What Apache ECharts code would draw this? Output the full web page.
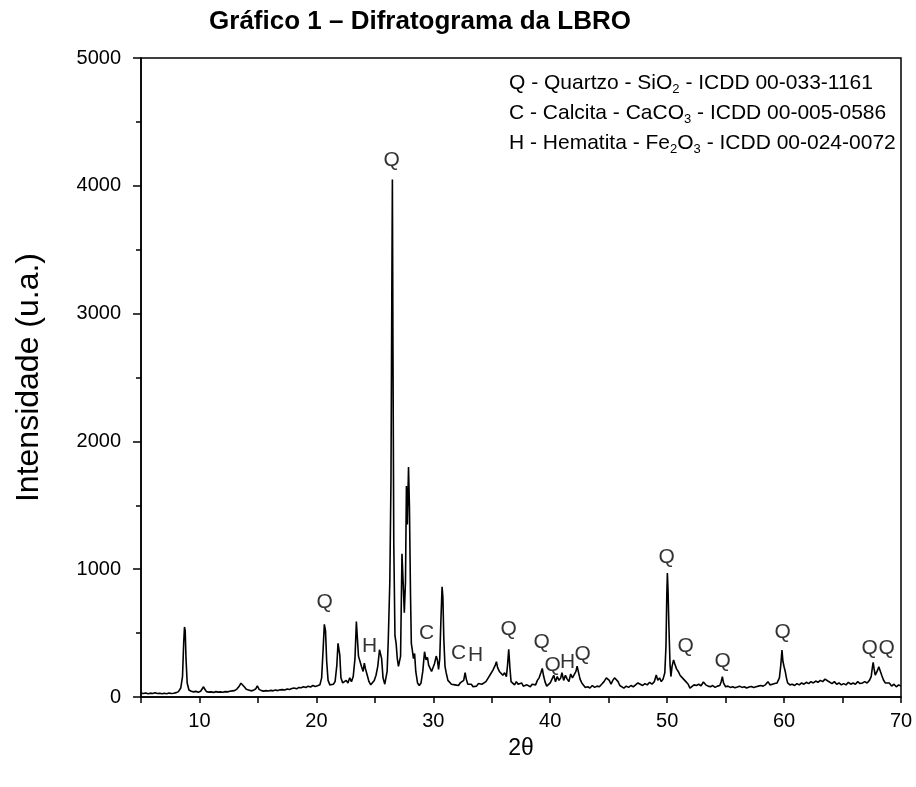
<!DOCTYPE html>
<html>
<head>
<meta charset="utf-8">
<script src="https://cdn.jsdelivr.net/npm/echarts@6/dist/echarts.min.js"></script>
<style>
  html, body { margin: 0; padding: 0; background: #fff; }
  #chart { width: 916px; height: 787px; }
</style>
</head>
<body>
<div id="chart"></div>
<script>
// X-ray diffraction pattern: [2θ (degrees), intensity (a.u.)]
const diffractogram = [
  [5.0,30],[5.2,28],[5.4,32],[5.6,26],[5.8,30],[6.0,28],[6.2,33],[6.4,27],[6.6,30],[6.8,25],
  [7.0,29],[7.2,26],[7.4,31],[7.6,27],[7.8,30],[8.0,34],[8.2,42],[8.4,70],[8.55,160],[8.65,420],
  [8.72,548],[8.78,520],[8.85,300],[8.95,110],[9.1,55],[9.3,45],[9.5,40],[9.7,44],[9.9,38],[10.1,45],
  [10.25,60],[10.35,80],[10.45,62],[10.6,42],[10.8,38],[11.0,40],[11.2,36],[11.4,42],[11.6,38],[11.8,40],
  [12.0,37],[12.2,42],[12.4,40],[12.6,45],[12.8,48],[13.0,50],[13.2,62],[13.4,85],[13.55,108],[13.7,100],
  [13.85,78],[14.0,60],[14.2,55],[14.4,48],[14.6,52],[14.8,62],[14.95,88],[15.1,60],[15.3,50],[15.5,46],
  [15.7,50],[15.9,47],[16.1,52],[16.3,48],[16.5,55],[16.7,50],[16.9,56],[17.1,58],[17.3,55],[17.5,62],
  [17.7,58],[17.9,66],[18.1,70],[18.3,64],[18.5,75],[18.7,72],[18.9,80],[19.1,74],[19.3,85],[19.5,78],
  [19.7,90],[19.9,82],[20.1,88],[20.3,95],[20.45,150],[20.58,380],[20.68,568],[20.78,520],[20.88,280],[21.0,130],
  [21.15,95],[21.3,85],[21.45,100],[21.6,120],[21.75,250],[21.85,420],[21.92,432],[22.0,330],[22.1,150],[22.25,110],
  [22.4,95],[22.55,130],[22.7,110],[22.85,150],[23.0,120],[23.15,160],[23.3,300],[23.42,590],[23.5,470],[23.6,320],
  [23.7,310],[23.85,240],[24.0,200],[24.1,265],[24.2,220],[24.35,170],[24.5,120],[24.65,95],[24.8,105],[24.95,130],
  [25.1,170],[25.25,240],[25.4,370],[25.48,383],[25.58,300],[25.7,150],[25.85,100],[25.95,110],[26.05,200],[26.15,450],
  [26.28,900],[26.38,1700],[26.45,3120],[26.5,4050],[26.55,2710],[26.62,1200],[26.72,480],[26.82,420],[26.92,300],[27.02,240],
  [27.1,230],[27.2,320],[27.32,1120],[27.42,900],[27.52,660],[27.62,900],[27.7,1650],[27.78,1350],[27.88,1800],[27.96,1480],
  [28.05,800],[28.12,420],[28.2,370],[28.3,300],[28.4,340],[28.5,200],[28.65,110],[28.8,90],[28.95,110],[29.1,200],
  [29.25,354],[29.38,290],[29.5,310],[29.6,250],[29.75,240],[29.85,200],[30.0,215],[30.1,260],[30.25,320],[30.35,290],
  [30.45,215],[30.55,300],[30.65,600],[30.75,862],[30.82,780],[30.9,450],[31.0,240],[31.1,190],[31.25,130],[31.4,120],
  [31.55,100],[31.7,115],[31.85,95],[32.0,105],[32.15,90],[32.3,110],[32.45,100],[32.6,130],[32.72,190],[32.82,140],
  [32.95,100],[33.1,85],[33.25,100],[33.4,80],[33.55,95],[33.7,85],[33.85,105],[34.0,90],[34.15,100],[34.3,95],
  [34.5,120],[34.7,150],[34.9,180],[35.1,210],[35.3,250],[35.4,276],[35.5,230],[35.65,200],[35.8,185],[35.95,170],
  [36.1,190],[36.25,160],[36.35,250],[36.45,373],[36.55,230],[36.65,120],[36.8,110],[36.95,95],[37.1,120],[37.25,100],
  [37.4,90],[37.55,110],[37.7,85],[37.85,80],[38.0,95],[38.15,90],[38.3,80],[38.45,100],[38.6,115],[38.75,95],
  [38.9,130],[39.05,150],[39.2,190],[39.32,224],[39.42,170],[39.55,120],[39.7,85],[39.85,75],[40.0,110],[40.15,140],
  [40.3,170],[40.45,120],[40.6,160],[40.75,130],[40.9,150],[41.0,190],[41.15,130],[41.3,170],[41.45,140],[41.6,120],
  [41.75,180],[41.9,150],[42.05,140],[42.2,200],[42.3,242],[42.4,200],[42.55,140],[42.7,110],[42.85,95],[43.0,75],
  [43.2,80],[43.4,70],[43.6,90],[43.8,75],[44.0,85],[44.2,80],[44.4,100],[44.6,120],[44.8,150],[44.93,165],
  [45.05,130],[45.2,100],[45.35,130],[45.5,150],[45.65,155],[45.8,120],[45.95,90],[46.1,75],[46.3,70],[46.5,85],
  [46.7,75],[46.9,90],[47.1,80],[47.3,95],[47.5,110],[47.7,100],[47.9,90],[48.1,105],[48.3,95],[48.5,115],
  [48.7,100],[48.9,120],[49.07,172],[49.2,130],[49.35,150],[49.5,120],[49.65,140],[49.8,190],[49.9,400],[49.97,800],
  [50.02,970],[50.08,820],[50.15,550],[50.25,250],[50.32,160],[50.42,240],[50.55,290],[50.65,260],[50.8,220],[50.95,200],
  [51.1,170],[51.25,180],[51.4,140],[51.6,120],[51.8,100],[51.95,70],[52.1,85],[52.3,95],[52.5,90],[52.7,100],
  [52.9,88],[53.1,117],[53.3,95],[53.5,85],[53.7,80],[53.9,90],[54.1,75],[54.3,85],[54.5,90],[54.62,120],
  [54.72,159],[54.82,110],[55.0,80],[55.2,85],[55.4,75],[55.6,80],[55.8,72],[56.0,78],[56.2,85],[56.4,75],
  [56.6,80],[56.8,70],[57.0,78],[57.2,82],[57.4,75],[57.6,80],[57.8,85],[58.0,90],[58.2,85],[58.4,95],
  [58.62,120],[58.8,95],[59.0,100],[59.2,105],[59.4,110],[59.6,150],[59.72,250],[59.82,367],[59.9,280],[60.0,237],
  [60.1,200],[60.2,150],[60.3,110],[60.5,95],[60.7,100],[60.9,90],[61.1,105],[61.3,95],[61.5,110],[61.7,100],
  [61.9,115],[62.1,105],[62.3,120],[62.5,110],[62.7,125],[62.9,115],[63.1,130],[63.3,120],[63.5,140],[63.6,143],
  [63.75,125],[63.9,115],[64.1,105],[64.3,120],[64.5,100],[64.7,110],[64.9,95],[65.1,105],[65.3,95],[65.5,115],
  [65.7,100],[65.9,110],[66.1,100],[66.3,120],[66.5,105],[66.7,110],[66.9,120],[67.1,110],[67.3,130],[67.45,160],
  [67.55,230],[67.62,271],[67.7,220],[67.8,172],[67.9,190],[68.0,210],[68.1,237],[68.2,230],[68.35,170],[68.5,133],
  [68.65,110],[68.8,95],[69.0,110],[69.2,85],[69.4,100],[69.6,80],[69.8,95],[70.0,85]
];

// Phase identification letters placed above the peaks: [2θ, height, phase]
const phaseMarks = [
  [26.43,4200,'Q'],[20.70,745,'Q'],[24.55,400,'H'],[29.42,500,'C'],[32.16,345,'C'],
  [33.61,330,'H'],[36.44,530,'Q'],[39.26,425,'Q'],[40.20,245,'Q'],[41.48,275,'H'],
  [42.77,335,'Q'],[49.95,1095,'Q'],[51.58,400,'Q'],[54.74,282,'Q'],[59.87,510,'Q'],
  [67.32,383,'Q'],[68.77,383,'Q']
];

// Phase key lines (subscripts marked with {s|…})
const phaseKey = [
  'Q - Quartzo - SiO{s|2} - ICDD 00-033-1161',
  'C - Calcita - CaCO{s|3} - ICDD 00-005-0586',
  'H - Hematita - Fe{s|2}O{s|3} - ICDD 00-024-0072'
];

// Axis settings
const xRange = [5, 70];
const yRange = [0, 5000];
const xLabelStep = 10;

const font = 'Liberation Sans, Arial, sans-serif';
const chart = echarts.init(document.getElementById('chart'));

chart.setOption({
  backgroundColor: '#fff',
  animation: false,
  grid: {
    left: 141, right: 15, top: 58, bottom: 90,
    show: true, borderColor: '#000', borderWidth: 1.5, backgroundColor: 'transparent'
  },
  graphic: [
    {
      type: 'text', x: 420, y: 22,
      style: {
        text: 'Gráfico 1 – Difratograma da LBRO',
        font: 'bold 26px ' + font, fill: '#000',
        textAlign: 'center', textVerticalAlign: 'middle'
      }
    },
    {
      type: 'text', x: 509, y: 68,
      style: {
        text: phaseKey.join('\n'),
        font: '21px ' + font, fill: '#000', lineHeight: 30,
        rich: {
          s: { fontSize: 13, fontFamily: font, fill: '#000', padding: [13, 0, 0, 0], lineHeight: 16 }
        }
      }
    }
  ],
  xAxis: {
    type: 'value', min: xRange[0], max: xRange[1], interval: 5,
    name: '2θ', nameLocation: 'middle', nameGap: 40,
    nameTextStyle: { fontFamily: font, fontSize: 23, color: '#000' },
    axisLine: { show: true, onZero: false, lineStyle: { color: '#000', width: 1.5 } },
    axisTick: { show: true, inside: false, length: 6, lineStyle: { color: '#000', width: 1.5 } },
    axisLabel: {
      color: '#000', fontFamily: font, fontSize: 20, margin: 14,
      formatter: v => (v % xLabelStep === 0 ? String(v) : '')
    },
    splitLine: { show: false }
  },
  yAxis: {
    type: 'value', min: yRange[0], max: yRange[1], interval: 1000,
    name: 'Intensidade (u.a.)', nameLocation: 'middle', nameGap: 96,
    nameTextStyle: { fontFamily: font, fontSize: 32, color: '#000' },
    axisLine: { show: true, lineStyle: { color: '#000', width: 1.5 } },
    axisTick: { show: true, inside: false, length: 8, lineStyle: { color: '#000', width: 1.5 } },
    minorTick: { show: true, splitNumber: 2, length: 5, lineStyle: { color: '#000', width: 1.5 } },
    axisLabel: {
      color: '#000', fontFamily: font, fontSize: 20, margin: 20,
      formatter: v => String(v)
    },
    splitLine: { show: false }
  },
  series: [
    {
      type: 'line', data: diffractogram, showSymbol: false, symbol: 'none',
      lineStyle: { color: '#000', width: 1.6 }, clip: true, silent: true
    },
    {
      type: 'scatter', data: phaseMarks, symbolSize: 1, itemStyle: { color: 'rgba(0,0,0,0)' },
      silent: true,
      label: {
        show: true, position: 'inside', color: '#000', fontFamily: font, fontSize: 21,
        formatter: p => p.data[2]
      }
    }
  ]
});
</script>
</body>
</html>
